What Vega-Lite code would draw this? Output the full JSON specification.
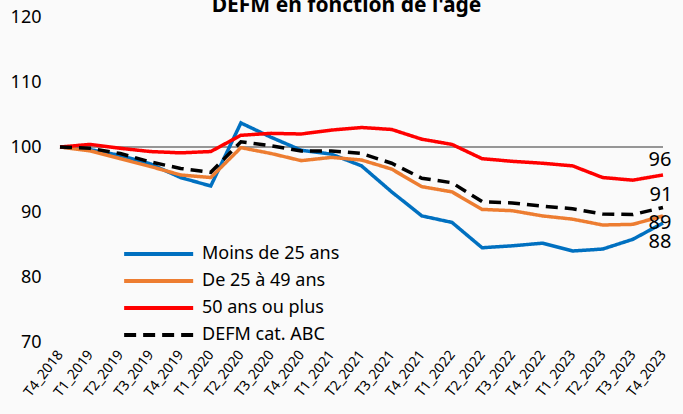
{
  "$schema": "https://vega.github.io/schema/vega-lite/v6.json",
  "width": 603,
  "height": 325,
  "autosize": {"type": "none"},
  "padding": {"left": 60, "top": 17, "right": 20, "bottom": 72},
  "background": "#fafafa",
  "config": {
    "font": "Noto Sans",
    "view": {"stroke": null},
    "axis": {"labelColor": "#000000", "labelFont": "Noto Sans"}
  },
  "title": {
    "text": "DEFM en fonction de l'âge",
    "fontSize": 21,
    "fontWeight": "bold",
    "font": "Noto Sans",
    "color": "#000000",
    "anchor": "middle",
    "frame": "group",
    "dx": -15,
    "dy": 31,
    "baseline": "alphabetic",
    "offset": 6
  },
  "data": {
    "values": [
      {"q": "T4_2018", "s": "Moins de 25 ans", "v": 100},
      {"q": "T1_2019", "s": "Moins de 25 ans", "v": 99.6},
      {"q": "T2_2019", "s": "Moins de 25 ans", "v": 98.7},
      {"q": "T3_2019", "s": "Moins de 25 ans", "v": 97.4},
      {"q": "T4_2019", "s": "Moins de 25 ans", "v": 95.3},
      {"q": "T1_2020", "s": "Moins de 25 ans", "v": 94.0},
      {"q": "T2_2020", "s": "Moins de 25 ans", "v": 103.7},
      {"q": "T3_2020", "s": "Moins de 25 ans", "v": 101.5},
      {"q": "T4_2020", "s": "Moins de 25 ans", "v": 99.5},
      {"q": "T1_2021", "s": "Moins de 25 ans", "v": 98.9},
      {"q": "T2_2021", "s": "Moins de 25 ans", "v": 97.1},
      {"q": "T3_2021", "s": "Moins de 25 ans", "v": 93.1},
      {"q": "T4_2021", "s": "Moins de 25 ans", "v": 89.4},
      {"q": "T1_2022", "s": "Moins de 25 ans", "v": 88.4},
      {"q": "T2_2022", "s": "Moins de 25 ans", "v": 84.5},
      {"q": "T3_2022", "s": "Moins de 25 ans", "v": 84.8},
      {"q": "T4_2022", "s": "Moins de 25 ans", "v": 85.2},
      {"q": "T1_2023", "s": "Moins de 25 ans", "v": 84.0},
      {"q": "T2_2023", "s": "Moins de 25 ans", "v": 84.3},
      {"q": "T3_2023", "s": "Moins de 25 ans", "v": 85.8},
      {"q": "T4_2023", "s": "Moins de 25 ans", "v": 88.3},
      {"q": "T4_2018", "s": "De 25 à 49 ans", "v": 100},
      {"q": "T1_2019", "s": "De 25 à 49 ans", "v": 99.4},
      {"q": "T2_2019", "s": "De 25 à 49 ans", "v": 98.2},
      {"q": "T3_2019", "s": "De 25 à 49 ans", "v": 97.0},
      {"q": "T4_2019", "s": "De 25 à 49 ans", "v": 95.7},
      {"q": "T1_2020", "s": "De 25 à 49 ans", "v": 95.3},
      {"q": "T2_2020", "s": "De 25 à 49 ans", "v": 99.9},
      {"q": "T3_2020", "s": "De 25 à 49 ans", "v": 99.0},
      {"q": "T4_2020", "s": "De 25 à 49 ans", "v": 97.9},
      {"q": "T1_2021", "s": "De 25 à 49 ans", "v": 98.4},
      {"q": "T2_2021", "s": "De 25 à 49 ans", "v": 98.0},
      {"q": "T3_2021", "s": "De 25 à 49 ans", "v": 96.6},
      {"q": "T4_2021", "s": "De 25 à 49 ans", "v": 93.9},
      {"q": "T1_2022", "s": "De 25 à 49 ans", "v": 93.1},
      {"q": "T2_2022", "s": "De 25 à 49 ans", "v": 90.4},
      {"q": "T3_2022", "s": "De 25 à 49 ans", "v": 90.2},
      {"q": "T4_2022", "s": "De 25 à 49 ans", "v": 89.4},
      {"q": "T1_2023", "s": "De 25 à 49 ans", "v": 88.9},
      {"q": "T2_2023", "s": "De 25 à 49 ans", "v": 88.0},
      {"q": "T3_2023", "s": "De 25 à 49 ans", "v": 88.1},
      {"q": "T4_2023", "s": "De 25 à 49 ans", "v": 89.4},
      {"q": "T4_2018", "s": "50 ans ou plus", "v": 100},
      {"q": "T1_2019", "s": "50 ans ou plus", "v": 100.4},
      {"q": "T2_2019", "s": "50 ans ou plus", "v": 99.8},
      {"q": "T3_2019", "s": "50 ans ou plus", "v": 99.3},
      {"q": "T4_2019", "s": "50 ans ou plus", "v": 99.1},
      {"q": "T1_2020", "s": "50 ans ou plus", "v": 99.3},
      {"q": "T2_2020", "s": "50 ans ou plus", "v": 101.8},
      {"q": "T3_2020", "s": "50 ans ou plus", "v": 102.1},
      {"q": "T4_2020", "s": "50 ans ou plus", "v": 102.0},
      {"q": "T1_2021", "s": "50 ans ou plus", "v": 102.6},
      {"q": "T2_2021", "s": "50 ans ou plus", "v": 103.0},
      {"q": "T3_2021", "s": "50 ans ou plus", "v": 102.7},
      {"q": "T4_2021", "s": "50 ans ou plus", "v": 101.2},
      {"q": "T1_2022", "s": "50 ans ou plus", "v": 100.4},
      {"q": "T2_2022", "s": "50 ans ou plus", "v": 98.2},
      {"q": "T3_2022", "s": "50 ans ou plus", "v": 97.8},
      {"q": "T4_2022", "s": "50 ans ou plus", "v": 97.5},
      {"q": "T1_2023", "s": "50 ans ou plus", "v": 97.1},
      {"q": "T2_2023", "s": "50 ans ou plus", "v": 95.3},
      {"q": "T3_2023", "s": "50 ans ou plus", "v": 94.9},
      {"q": "T4_2023", "s": "50 ans ou plus", "v": 95.7},
      {"q": "T4_2018", "s": "DEFM cat. ABC", "v": 100},
      {"q": "T1_2019", "s": "DEFM cat. ABC", "v": 99.8},
      {"q": "T2_2019", "s": "DEFM cat. ABC", "v": 99.0},
      {"q": "T3_2019", "s": "DEFM cat. ABC", "v": 97.7},
      {"q": "T4_2019", "s": "DEFM cat. ABC", "v": 96.7},
      {"q": "T1_2020", "s": "DEFM cat. ABC", "v": 96.1},
      {"q": "T2_2020", "s": "DEFM cat. ABC", "v": 100.8},
      {"q": "T3_2020", "s": "DEFM cat. ABC", "v": 100.2},
      {"q": "T4_2020", "s": "DEFM cat. ABC", "v": 99.4},
      {"q": "T1_2021", "s": "DEFM cat. ABC", "v": 99.4},
      {"q": "T2_2021", "s": "DEFM cat. ABC", "v": 99.0},
      {"q": "T3_2021", "s": "DEFM cat. ABC", "v": 97.5},
      {"q": "T4_2021", "s": "DEFM cat. ABC", "v": 95.2},
      {"q": "T1_2022", "s": "DEFM cat. ABC", "v": 94.5},
      {"q": "T2_2022", "s": "DEFM cat. ABC", "v": 91.6},
      {"q": "T3_2022", "s": "DEFM cat. ABC", "v": 91.4},
      {"q": "T4_2022", "s": "DEFM cat. ABC", "v": 90.9},
      {"q": "T1_2023", "s": "DEFM cat. ABC", "v": 90.5},
      {"q": "T2_2023", "s": "DEFM cat. ABC", "v": 89.7},
      {"q": "T3_2023", "s": "DEFM cat. ABC", "v": 89.6},
      {"q": "T4_2023", "s": "DEFM cat. ABC", "v": 90.7}
    ]
  },
  "encoding": {
    "x": {
      "field": "q",
      "type": "ordinal",
      "sort": null,
      "scale": {"type": "point", "padding": 0},
      "axis": {
        "title": null,
        "domain": false,
        "ticks": false,
        "labelAngle": -52,
        "labelAlign": "right",
        "labelBaseline": "middle",
        "labelPadding": 10,
        "labelFontSize": 14,
        "labelColor": "#000000"
      }
    },
    "y": {
      "field": "v",
      "type": "quantitative",
      "scale": {"domain": [70, 120], "nice": false, "zero": false},
      "axis": {
        "title": null,
        "domain": false,
        "ticks": false,
        "grid": false,
        "values": [70, 80, 90, 100, 110, 120],
        "labelPadding": 19,
        "labelFontSize": 18,
        "labelColor": "#000000"
      }
    }
  },
  "layer": [
    {
      "mark": {"type": "rule", "color": "#969696", "strokeWidth": 2},
      "encoding": {"y": {"datum": 100}, "x": {"value": 0}, "x2": {"value": 603}}
    },
    {
      "mark": {"type": "line", "strokeWidth": 3.5},
      "encoding": {
        "color": {
          "field": "s",
          "type": "nominal",
          "scale": {
            "domain": ["Moins de 25 ans", "De 25 à 49 ans", "50 ans ou plus", "DEFM cat. ABC"],
            "range": ["#0070C0", "#ED7D31", "#FF0000", "#000000"]
          },
          "legend": {
            "title": null,
            "orient": "none",
            "legendX": 62,
            "legendY": 225,
            "padding": 0,
            "symbolType": "M-1,0H6",
            "symbolSize": 389,
            "symbolStrokeWidth": 4,
            "symbolFillColor": "transparent",
            "labelOffset": 56,
            "labelFontSize": 18,
            "labelFont": "Noto Sans",
            "labelColor": "#000000",
            "rowPadding": 6
          }
        },
        "strokeDash": {
          "field": "s",
          "type": "nominal",
          "scale": {
            "domain": ["Moins de 25 ans", "De 25 à 49 ans", "50 ans ou plus", "DEFM cat. ABC"],
            "range": [[1, 0], [1, 0], [1, 0], [12, 7]]
          },
          "legend": {
            "title": null,
            "orient": "none",
            "legendX": 62,
            "legendY": 225,
            "padding": 0,
            "symbolType": "M-1,0H6",
            "symbolSize": 389,
            "symbolStrokeWidth": 4,
            "symbolFillColor": "transparent",
            "labelOffset": 56,
            "labelFontSize": 18,
            "labelFont": "Noto Sans",
            "labelColor": "#000000",
            "rowPadding": 6
          }
        }
      }
    },
    {
      "transform": [{"filter": "datum.q == 'T4_2023' && datum.s == '50 ans ou plus'"}],
      "mark": {"type": "text", "fontSize": 20, "dx": -3, "dy": -15, "baseline": "middle", "color": "#000000"},
      "encoding": {"text": {"field": "v", "type": "quantitative", "format": ".0f"}}
    },
    {
      "transform": [{"filter": "datum.q == 'T4_2023' && datum.s == 'DEFM cat. ABC'"}],
      "mark": {"type": "text", "fontSize": 20, "dx": -2, "dy": -12, "baseline": "middle", "color": "#000000"},
      "encoding": {"text": {"field": "v", "type": "quantitative", "format": ".0f"}}
    },
    {
      "transform": [{"filter": "datum.q == 'T4_2023' && datum.s == 'De 25 à 49 ans'"}],
      "mark": {"type": "text", "fontSize": 20, "dx": -3, "dy": 7, "baseline": "middle", "color": "#000000"},
      "encoding": {"text": {"field": "v", "type": "quantitative", "format": ".0f"}}
    },
    {
      "transform": [{"filter": "datum.q == 'T4_2023' && datum.s == 'Moins de 25 ans'"}],
      "mark": {"type": "text", "fontSize": 20, "dx": -3, "dy": 19, "baseline": "middle", "color": "#000000"},
      "encoding": {"text": {"field": "v", "type": "quantitative", "format": ".0f"}}
    }
  ]
}
